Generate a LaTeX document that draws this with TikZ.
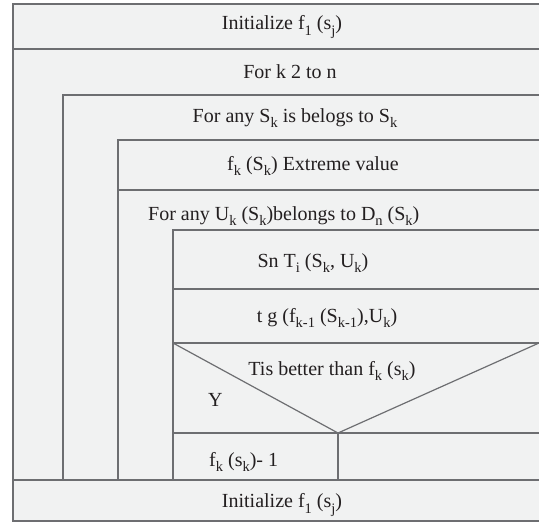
\documentclass[tikz,border=0pt]{standalone}
\usepackage{fontspec}
\setmainfont{Liberation Serif}
\definecolor{bgfill}{HTML}{F1F2F2}
\definecolor{linec}{HTML}{6D6E71}
\definecolor{txtc}{HTML}{231F20}
\newcommand{\sbs}[1]{\raisebox{-0.28em}{\fontsize{14.5}{15}\selectfont #1}}
\begin{document}
\begin{tikzpicture}[x=1pt,y=-1pt,
  frame/.style={draw=linec,line width=1.2pt},
  lbl/.style={text=txtc,font=\fontsize{20}{23}\selectfont,inner sep=0pt},
  lbll/.style={lbl,anchor=west}]
\useasboundingbox (0,0) rectangle (539,525);
\fill[bgfill] (13,4) rectangle (539,521);
% outer frame
\draw[frame] (539,4) -- (13,4) -- (13,521) -- (539,521);
\draw[frame] (13,49) -- (539,49);
% level 2
\draw[frame] (539,95) -- (63,95) -- (63,480);
% level 3
\draw[frame] (539,140) -- (118,140) -- (118,480);
\draw[frame] (118,190) -- (539,190);
% level 4
\draw[frame] (539,230) -- (173,230) -- (173,480);
\draw[frame] (173,289) -- (539,289);
\draw[frame] (173,343) -- (539,343);
\draw[frame] (173,343) -- (338,433) -- (539,343);
\draw[frame] (173,433) -- (539,433);
\draw[frame] (338,433) -- (338,480);
\draw[frame] (12,480) -- (539,480);
% texts
\node[lbl] (t1) at (282,27) {Initialize f\sbs{1} (s\sbs{j})};
\node[lbl] (t2) at (290,72) {For k 2 to n};
\node[lbl] (t3) at (295,118) {For any S\sbs{k} is belogs to S\sbs{k}};
\node[lbl] (t4) at (313,166) {f\sbs{k} (S\sbs{k}) Extreme value};
\node[lbll] (t5) at (148,216) {For any U\sbs{k} (S\sbs{k})belongs to D\sbs{n} (S\sbs{k})};
\node[lbl] (t6) at (313,263) {Sn T\sbs{i} (S\sbs{k}, U\sbs{k})};
\node[lbl] (t7) at (327,318) {t g (f\sbs{k-1} (S\sbs{k-1}),U\sbs{k})};
\node[lbl] (t8) at (332,371) {Tis better than f\sbs{k} (s\sbs{k})};
\node[lbll] (t9) at (208,400) {Y};
\node[lbll] (t10) at (209,462) {f\sbs{k} (s\sbs{k})- 1};
\node[lbl] (t11) at (282,505) {Initialize f\sbs{1} (s\sbs{j})};
\end{tikzpicture}
\end{document}
